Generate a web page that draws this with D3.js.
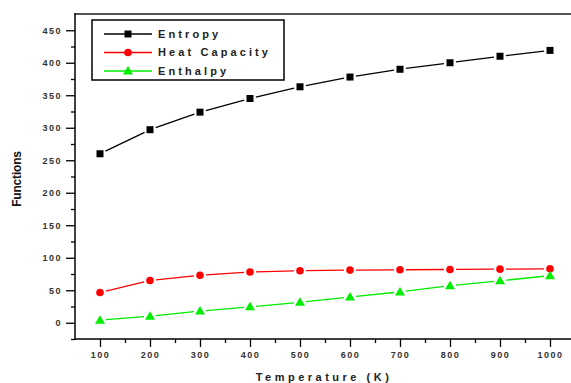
<!DOCTYPE html>
<html>
<head>
<meta charset="utf-8">
<script src="https://cdn.jsdelivr.net/npm/d3@7"></script>
<style>
  body { margin: 0; background: #fff; }
  svg { display: block; }
  .tick text { font-family: "Liberation Sans", Arial, sans-serif; font-size: 9px; font-weight: bold; fill: #333; letter-spacing: 1.5px; }
</style>
</head>
<body>
<div id="chart"></div>
<script>
// temperature in K
const temps = [100, 200, 300, 400, 500, 600, 700, 800, 900, 1000];
const entropy = [260, 297, 324, 345, 363, 378, 390, 400, 410, 419];
const heatCapacity = [46.5, 65, 73, 78, 80, 81, 81.5, 82, 82.5, 83];
const enthalpy = [4, 10, 18, 24.5, 31.5, 39.5, 47.5, 57, 64.5, 72.5];
const yTicks = [0, 50, 100, 150, 200, 250, 300, 350, 400, 450];
const xTicks = [100, 200, 300, 400, 500, 600, 700, 800, 900, 1000];

const series = [
  {name: "Entropy", values: entropy, color: "#000", shape: "square"},
  {name: "Heat Capacity", values: heatCapacity, color: "#ff0000", shape: "circle"},
  {name: "Enthalpy", values: enthalpy, color: "#00ee00", shape: "triangle"}
];

const W = 571, H = 383;
const plotL = 75, plotT = 14, plotR = 575, plotB = 339;

const svg = d3.select("#chart").append("svg")
  .attr("width", W).attr("height", H);

const x = d3.scaleLinear().domain([50, 1050]).range([plotL, plotR]);
const y = d3.scaleLinear().domain([-25, 475]).range([plotB, plotT]);

// minor ticks first so major ones sit over them
svg.append("g")
  .attr("transform", `translate(0,${plotB})`)
  .call(d3.axisBottom(x).tickValues(d3.range(150, 1050, 100)).tickSize(4).tickFormat(""))
  .call(g => g.select(".domain").remove())
  .selectAll("line").attr("stroke", "#000").attr("stroke-width", 1.3);

svg.append("g")
  .attr("transform", `translate(${plotL},0)`)
  .call(d3.axisLeft(y).tickValues(d3.range(-25, 475, 50)).tickSize(4).tickFormat(""))
  .call(g => g.select(".domain").remove())
  .selectAll("line").attr("stroke", "#000").attr("stroke-width", 1.3);

const xAxis = svg.append("g")
  .attr("transform", `translate(0,${plotB})`)
  .call(d3.axisBottom(x).tickValues(xTicks).tickFormat(d3.format("d"))
    .tickSize(8).tickPadding(5).tickSizeOuter(0));
xAxis.select(".domain").remove();
xAxis.selectAll("line").attr("stroke", "#000").attr("stroke-width", 1.3);

const yAxis = svg.append("g")
  .attr("transform", `translate(${plotL},0)`)
  .call(d3.axisLeft(y).tickValues(yTicks).tickFormat(d3.format("d"))
    .tickSize(9).tickPadding(4).tickSizeOuter(0));
yAxis.select(".domain").remove();
yAxis.selectAll("line").attr("stroke", "#000").attr("stroke-width", 1.3);
yAxis.selectAll("text").attr("dy", "0.35em");

// frame: top border, left and bottom axes
svg.append("line").attr("x1", plotL).attr("x2", W).attr("y1", plotT).attr("y2", plotT)
  .attr("stroke", "#555").attr("stroke-width", 2);
svg.append("line").attr("x1", plotL).attr("x2", plotL).attr("y1", plotT - 1).attr("y2", plotB + 1)
  .attr("stroke", "#000").attr("stroke-width", 1.5);
svg.append("line").attr("x1", plotL).attr("x2", W).attr("y1", plotB).attr("y2", plotB)
  .attr("stroke", "#000").attr("stroke-width", 1.5);

function marker(g, shape, color, cx, cy) {
  if (shape === "square") {
    g.append("rect").attr("x", cx - 3.5).attr("y", cy - 3.5).attr("width", 7).attr("height", 7).attr("fill", color);
  } else if (shape === "circle") {
    g.append("circle").attr("cx", cx).attr("cy", cy).attr("r", 3.8).attr("fill", color);
  } else {
    g.append("path").attr("d", `M${cx},${cy - 5}L${cx + 5},${cy + 3.5}L${cx - 5},${cy + 3.5}Z`).attr("fill", color);
  }
}

// lines with a small gap at each marker
const gap = 6;
series.forEach(s => {
  const g = svg.append("g");
  const pts = temps.map((t, i) => [x(t), y(s.values[i])]);
  for (let i = 0; i < pts.length - 1; i++) {
    const [x0, y0] = pts[i], [x1, y1] = pts[i + 1];
    const len = Math.hypot(x1 - x0, y1 - y0);
    const ux = (x1 - x0) / len, uy = (y1 - y0) / len;
    g.append("line")
      .attr("x1", x0 + ux * gap).attr("y1", y0 + uy * gap)
      .attr("x2", x1 - ux * gap).attr("y2", y1 - uy * gap)
      .attr("stroke", s.color).attr("stroke-width", 1.3);
  }
  pts.forEach(p => marker(g, s.shape, s.color, p[0], p[1]));
});

// legend
const lg = svg.append("g");
lg.append("rect").attr("x", 92).attr("y", 20).attr("width", 192).attr("height", 60)
  .attr("fill", "#fff").attr("stroke", "#000").attr("stroke-width", 1.5);
series.forEach((s, i) => {
  const ly = 34 + i * 18.5;
  lg.append("line").attr("x1", 104).attr("x2", 152).attr("y1", ly).attr("y2", ly)
    .attr("stroke", s.color).attr("stroke-width", 1.3);
  marker(lg, s.shape, s.color, 128, ly);
  lg.append("text").attr("x", 158).attr("y", ly).attr("dy", "0.35em")
    .attr("font-family", "Liberation Sans, Arial, sans-serif").attr("font-size", 11)
    .attr("font-weight", "bold").attr("letter-spacing", 3.1).attr("fill", "#222")
    .text(s.name);
});

// axis titles
svg.append("text")
  .attr("transform", `translate(21,179) rotate(-90)`)
  .attr("text-anchor", "middle")
  .attr("font-family", "Liberation Sans, Arial, sans-serif").attr("font-size", 12)
  .attr("font-weight", "bold").attr("letter-spacing", -0.2).attr("fill", "#111")
  .text("Functions");

svg.append("text")
  .attr("x", 324).attr("y", 381)
  .attr("text-anchor", "middle")
  .attr("font-family", "Liberation Sans, Arial, sans-serif").attr("font-size", 11)
  .attr("font-weight", "bold").attr("letter-spacing", 3.5).attr("fill", "#222")
  .text("Temperature (K)");
</script>
</body>
</html>
